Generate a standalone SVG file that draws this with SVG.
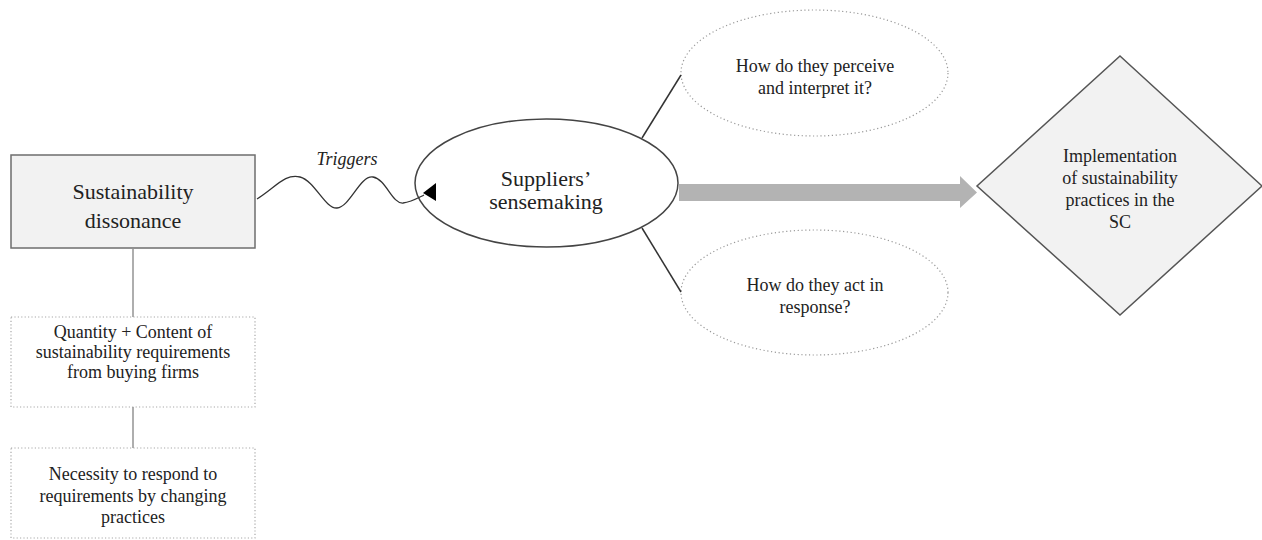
<svg xmlns="http://www.w3.org/2000/svg" width="1262" height="540" viewBox="0 0 1262 540">
<style>
  .t { font-family: 'Liberation Serif', 'DejaVu Serif', serif; fill: #222; text-anchor: middle; }
  .big { font-size: 22px; }
  .sm { font-size: 18px; }
  .it { font-style: italic; font-size: 18px; }
  .solidbox { fill: #f2f2f2; stroke: #6e6e6e; stroke-width: 1.5; }
  .dotbox { fill: #ffffff; stroke: #a8a8a8; stroke-width: 1.2; stroke-dasharray: 1.2 2.2; }
  .dotell { fill: #ffffff; stroke: #999999; stroke-width: 1.2; stroke-dasharray: 1.2 2.6; }
  .vline { stroke: #9a9a9a; stroke-width: 1.6; fill: none; }
  .dline { stroke: #333333; stroke-width: 1.5; fill: none; }
</style>
<rect width="1262" height="540" fill="#ffffff"/>

<g id="node-dissonance">
  <rect class="solidbox" x="11" y="155" width="244" height="93"/>
  <text class="t big" x="133" y="199" font-family="Liberation Serif, serif">Sustainability</text>
  <text class="t big" x="133" y="228" font-family="Liberation Serif, serif">dissonance</text>
</g>

<g id="node-quantity">
  <rect class="dotbox" x="11" y="317" width="244" height="90"/>
  <text class="t sm" x="133" y="338">Quantity + Content of</text>
  <text class="t sm" x="133" y="358">sustainability requirements</text>
  <text class="t sm" x="133" y="378">from buying firms</text>
</g>

<g id="node-necessity">
  <rect class="dotbox" x="11" y="448" width="244" height="90"/>
  <text class="t sm" x="133" y="480">Necessity to respond to</text>
  <text class="t sm" x="133" y="502">requirements by changing</text>
  <text class="t sm" x="133" y="523">practices</text>
</g>

<g id="label-triggers">
  <text class="t it" x="347" y="165">Triggers</text>
</g>

<g id="node-sensemaking">
  <ellipse cx="546.5" cy="183" rx="131.5" ry="64" fill="#ffffff" stroke="#444" stroke-width="1.5"/>
  <text class="t big" x="546" y="186">Suppliers’</text>
  <text class="t big" x="546" y="209">sensemaking</text>
</g>

<g id="node-perceive">
  <ellipse class="dotell" cx="814.5" cy="73" rx="133.5" ry="63"/>
  <text class="t sm" x="815" y="72">How do they perceive</text>
  <text class="t sm" x="815" y="94">and interpret it?</text>
</g>

<g id="node-act">
  <ellipse class="dotell" cx="814.5" cy="292.5" rx="133.5" ry="62.5"/>
  <text class="t sm" x="815" y="291">How do they act in</text>
  <text class="t sm" x="815" y="313">response?</text>
</g>

<g id="node-implementation">
  <polygon class="solidbox" points="1120,56 1262,186 1120,315 977,186" style="stroke:#555"/>
  <text class="t sm" x="1120" y="162">Implementation</text>
  <text class="t sm" x="1120" y="184">of sustainability</text>
  <text class="t sm" x="1120" y="206">practices in the</text>
  <text class="t sm" x="1120" y="228">SC</text>
</g>

<g id="connectors">
  <line class="vline" x1="133" y1="249" x2="133" y2="317"/>
  <line class="vline" x1="133" y1="407" x2="133" y2="448"/>
  <path d="M257,199 C275,188 285,173 300,177 C315,181 325,209 337,208 C350,207 360,175 373,177 C386,179 392,204 403,203 C411,202 416,199 424,195" fill="none" stroke="#333" stroke-width="1.3"/>
  <polygon points="423,193 436,183 436,201" fill="#000"/>
  <line class="dline" x1="642" y1="138" x2="681" y2="75"/>
  <line class="dline" x1="642" y1="228" x2="681" y2="292"/>
  <polygon points="679,184 960,184 960,176 977,192.5 960,208 960,201 679,201" fill="#b3b3b3"/>
</g>
</svg>
